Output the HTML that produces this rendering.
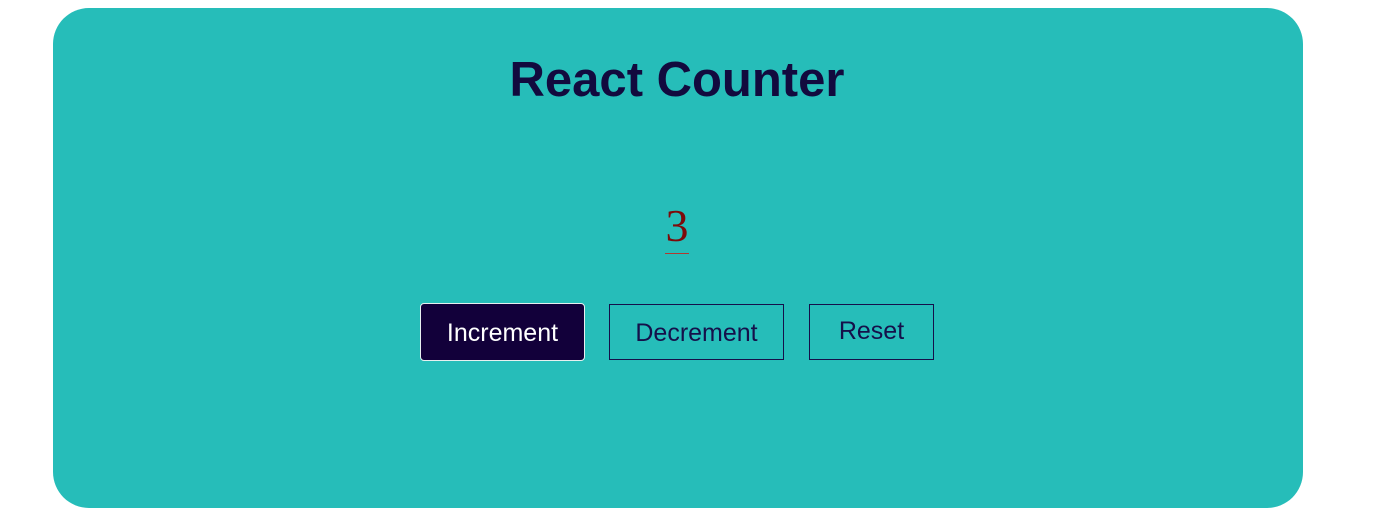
<!DOCTYPE html>
<html><head><style>
body{margin:0;width:1381px;height:516px;background:#fff;position:relative;overflow:hidden;font-family:"Liberation Sans",sans-serif}
.card{position:absolute;left:53px;top:8px;width:1250px;height:500px;background:#26bdb9;border-radius:36px}
h1{position:absolute;left:0;width:1354px;top:48px;margin:0;text-align:center;font-size:49px;font-weight:bold;color:#120a3e;line-height:64px;letter-spacing:0}
.num{position:absolute;left:665px;width:24px;top:199px;text-align:center;font-family:"Liberation Serif",serif;font-size:46px;line-height:54px;color:#7d0a0a;border-bottom:1px solid #b03a30;height:54px}
.b{position:absolute;box-sizing:border-box;border:1px solid #15104a;color:#15104a;font-size:25px;display:flex;align-items:center;justify-content:center}
</style></head><body>
<div class="card"></div>
<h1>React Counter</h1>
<div class="num">3</div>
<div class="b" style="left:420px;top:303px;width:165px;height:58px;background:#12003a;color:#fff;border-color:#e8f0f0;border-radius:4px;padding-top:2px">Increment</div>
<div class="b" style="left:609px;top:304px;width:175px;height:56px;padding-top:2px">Decrement</div>
<div class="b" style="left:809px;top:304px;width:125px;height:56px;padding-bottom:2px">Reset</div>
</body></html>
